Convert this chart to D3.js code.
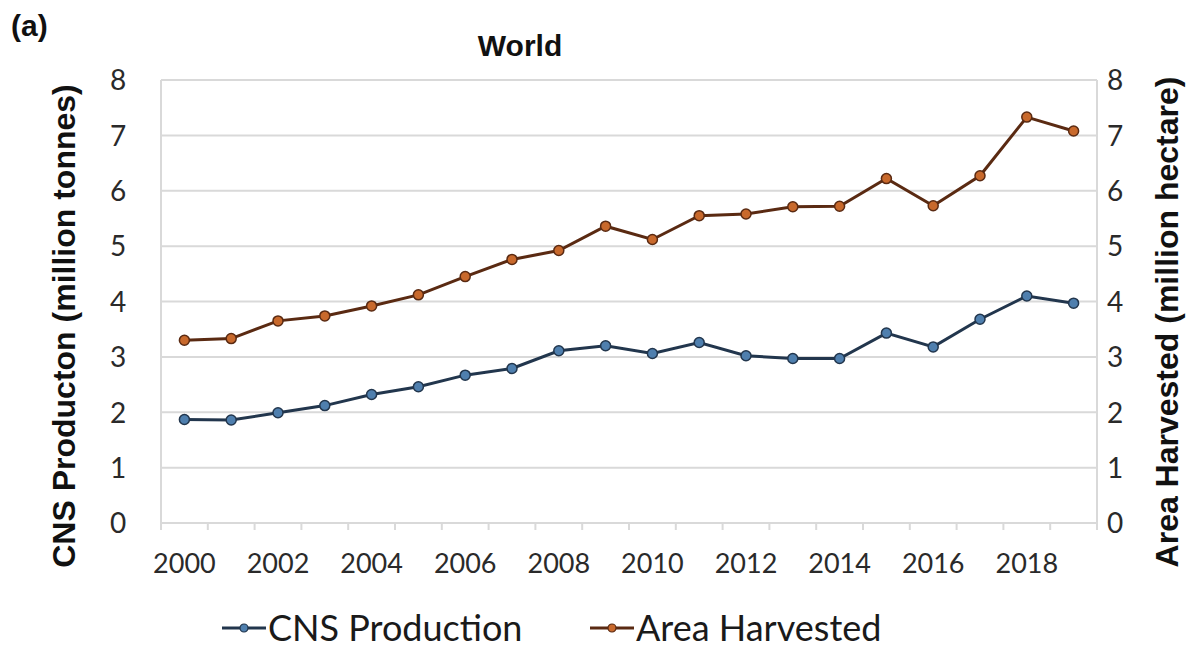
<!DOCTYPE html>
<html>
<head>
<meta charset="utf-8">
<script src="https://cdn.jsdelivr.net/npm/d3@7"></script>
<style>
  html, body { margin: 0; padding: 0; background: #ffffff; }
  svg { display: block; }
</style>
</head>
<body>
<svg id="chart" width="1191" height="648"></svg>
<script>
// World cashew (CNS) production and harvested area, 2000-2019
const years = d3.range(2000, 2020);
const cnsProduction = [1.87, 1.86, 1.99, 2.12, 2.32, 2.46, 2.67, 2.79, 3.11, 3.20,
                       3.06, 3.26, 3.02, 2.97, 2.97, 3.43, 3.18, 3.68, 4.10, 3.97];
const areaHarvested = [3.30, 3.33, 3.65, 3.74, 3.92, 4.12, 4.45, 4.76, 4.92, 5.36,
                       5.12, 5.55, 5.58, 5.71, 5.72, 6.22, 5.73, 6.27, 7.33, 7.08];
const yTicks = [0, 1, 2, 3, 4, 5, 6, 7, 8];
const xLabelYears = [2000, 2002, 2004, 2006, 2008, 2010, 2012, 2014, 2016, 2018];

const seriesNames = ["CNS Production", "Area Harvested"];
const lineColors = ["#22364d", "#5a2a12"];
const markerColors = ["#4f7fae", "#c8692c"];

const svg = d3.select("#chart");
const margin = { left: 161, right: 94, top: 80, bottom: 125 };
const W = 1191, H = 648;
const plotW = W - margin.left - margin.right;
const plotH = H - margin.top - margin.bottom;

const x = d3.scaleBand().domain(years).range([0, plotW]);
const yLeft = d3.scaleLinear().domain([0, 8]).range([plotH, 0]);
const yRight = d3.scaleLinear().domain([0, 8]).range([plotH, 0]);

const g = svg.append("g").attr("transform", `translate(${margin.left},${margin.top})`);

const tickFont = "Lato, 'Open Sans', sans-serif";
const boldFont = "'Liberation Sans', Arial, sans-serif";
const gridColor = "#d9d9d9";
const tickColor = "#2a2a2a";

// horizontal gridlines
g.append("g")
  .selectAll("line")
  .data(yTicks)
  .join("line")
  .attr("x1", 0).attr("x2", plotW)
  .attr("y1", d => yLeft(d)).attr("y2", d => yLeft(d))
  .attr("stroke", gridColor).attr("stroke-width", 2);

// left and right axis lines
g.append("line").attr("x1", 0).attr("x2", 0).attr("y1", 0).attr("y2", plotH)
  .attr("stroke", gridColor).attr("stroke-width", 2);
g.append("line").attr("x1", plotW).attr("x2", plotW).attr("y1", 0).attr("y2", plotH)
  .attr("stroke", gridColor).attr("stroke-width", 2);

// left axis
const leftAxis = g.append("g").call(d3.axisLeft(yLeft).tickValues(yTicks).tickSize(0).tickPadding(43));
leftAxis.select(".domain").remove();
leftAxis.selectAll("text")
  .attr("font-family", tickFont).attr("font-size", 28).attr("fill", tickColor)
  .attr("text-anchor", "middle").attr("dy", "0.35em");

// right axis
const rightAxis = g.append("g").attr("transform", `translate(${plotW},0)`)
  .call(d3.axisRight(yRight).tickValues(yTicks).tickSize(0).tickPadding(18));
rightAxis.select(".domain").remove();
rightAxis.selectAll("text")
  .attr("font-family", tickFont).attr("font-size", 28).attr("fill", tickColor)
  .attr("text-anchor", "middle").attr("dy", "0.35em");

// x axis: tick marks between categories, labels on every other year
const xAxisG = g.append("g").attr("transform", `translate(0,${plotH})`);
xAxisG.append("line").attr("x1", 0).attr("x2", plotW).attr("y1", 0).attr("y2", 0)
  .attr("stroke", gridColor).attr("stroke-width", 2);
const boundaries = d3.range(0, years.length + 1);
xAxisG.selectAll("line.tick")
  .data(boundaries)
  .join("line")
  .attr("class", "tick")
  .attr("x1", i => i * x.step()).attr("x2", i => i * x.step())
  .attr("y1", 0).attr("y2", 7)
  .attr("stroke", gridColor).attr("stroke-width", 2);
const xAxis = d3.axisBottom(x).tickValues(xLabelYears).tickSize(0).tickPadding(31);
const xLabels = g.append("g").attr("transform", `translate(0,${plotH})`).call(xAxis);
xLabels.select(".domain").remove();
xLabels.selectAll("text")
  .attr("font-family", tickFont).attr("font-size", 27).attr("fill", tickColor);

// series lines and markers
const series = [
  { name: seriesNames[0], values: cnsProduction, scale: yLeft },
  { name: seriesNames[1], values: areaHarvested, scale: yRight }
];
series.forEach((s, si) => {
  const line = d3.line()
    .x((d, i) => x(years[i]) + x.bandwidth() / 2)
    .y(d => s.scale(d));
  g.append("path")
    .datum(s.values)
    .attr("fill", "none")
    .attr("stroke", lineColors[si])
    .attr("stroke-width", 3)
    .attr("d", line);
  g.append("g")
    .selectAll("circle")
    .data(s.values)
    .join("circle")
    .attr("cx", (d, i) => x(years[i]) + x.bandwidth() / 2)
    .attr("cy", d => s.scale(d))
    .attr("r", 5)
    .attr("fill", markerColors[si])
    .attr("stroke", lineColors[si])
    .attr("stroke-width", 1.5);
});

// panel label and title
svg.append("text").attr("x", 11).attr("y", 36)
  .attr("font-family", boldFont).attr("font-weight", "bold")
  .attr("font-size", 30).attr("fill", "#111").text("(a)");
svg.append("text").attr("x", 520).attr("y", 56).attr("text-anchor", "middle")
  .attr("font-family", boldFont).attr("font-weight", "bold")
  .attr("font-size", 30).attr("fill", "#111").text("World");

// axis titles
svg.append("text")
  .attr("transform", `translate(75,326) rotate(-90)`)
  .attr("text-anchor", "middle")
  .attr("font-family", boldFont).attr("font-weight", "bold")
  .attr("font-size", 32).attr("fill", "#111")
  .text("CNS Producton (million tonnes)");
svg.append("text")
  .attr("transform", `translate(1178,322) rotate(-90)`)
  .attr("text-anchor", "middle")
  .attr("font-family", boldFont).attr("font-weight", "bold")
  .attr("font-size", 32).attr("fill", "#111")
  .text("Area Harvested (million hectare)");

// legend
const legendItems = [
  { name: seriesNames[0], x: 222 },
  { name: seriesNames[1], x: 590 }
];
const legendY = 628;
legendItems.forEach((it, i) => {
  const lg = svg.append("g").attr("transform", `translate(${it.x},${legendY})`);
  lg.append("line").attr("x1", 0).attr("x2", 44).attr("y1", 0).attr("y2", 0)
    .attr("stroke", lineColors[i]).attr("stroke-width", 3);
  lg.append("circle").attr("cx", 22).attr("cy", 0).attr("r", 4)
    .attr("fill", markerColors[i]).attr("stroke", lineColors[i]).attr("stroke-width", 1.2);
  lg.append("text").attr("x", 46).attr("y", 0).attr("dy", "0.36em")
    .attr("font-family", tickFont).attr("font-size", 36).attr("fill", "#1a1a1a")
    .text(it.name);
});
</script>
</body>
</html>
